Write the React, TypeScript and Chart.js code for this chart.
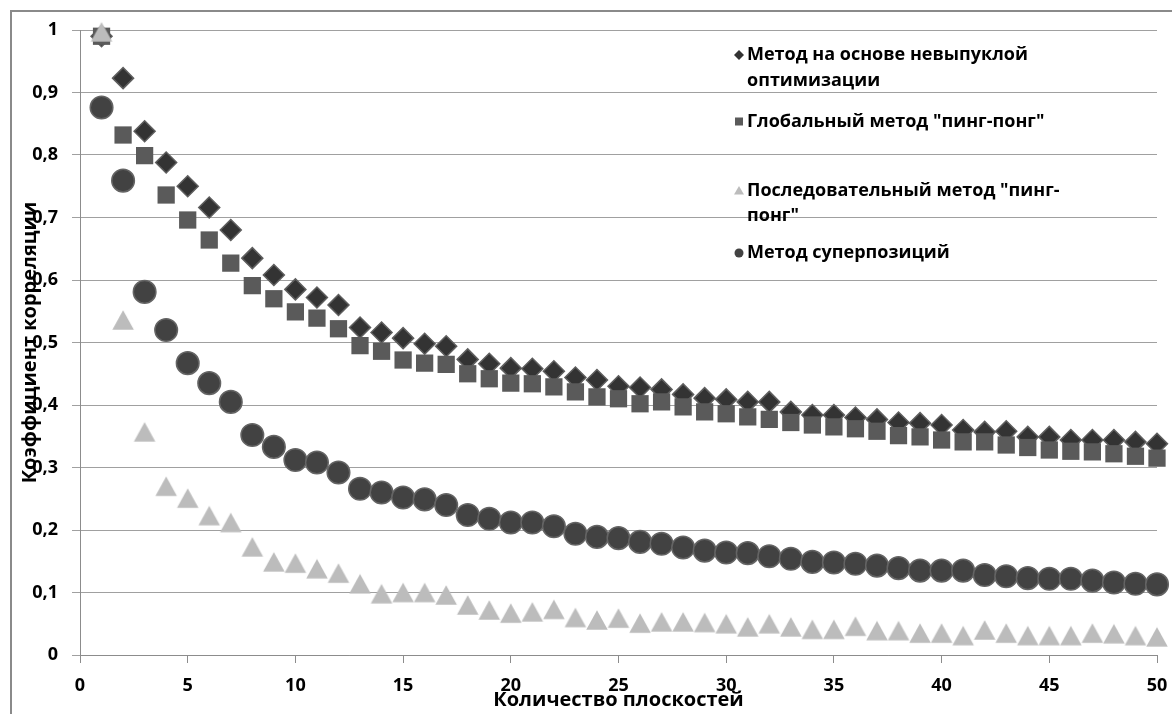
import React, { useEffect, useRef } from 'react';
import { Chart, registerables } from 'chart.js';

Chart.register(...registerables);

const planes = Array.from({ length: 50 }, (_, i) => i + 1);

const seriesNames = [
  ['Метод на основе невыпуклой', 'оптимизации'],
  ['Глобальный метод "пинг-понг"'],
  ['Последовательный метод "пинг-', 'понг"'],
  ['Метод суперпозиций'],
];

const nonconvex = [
  0.99, 0.923, 0.838, 0.788, 0.75, 0.716, 0.68, 0.635, 0.608, 0.585,
  0.572, 0.56, 0.524, 0.516, 0.507, 0.498, 0.494, 0.473, 0.466, 0.459,
  0.458, 0.454, 0.444, 0.44, 0.43, 0.428, 0.425, 0.417, 0.411, 0.409,
  0.405, 0.405, 0.389, 0.384, 0.384, 0.38, 0.377, 0.372, 0.371, 0.368,
  0.36, 0.357, 0.358, 0.349, 0.349, 0.344, 0.344, 0.344, 0.341, 0.338,
];

const globalPingPong = [
  0.99, 0.832, 0.799, 0.736, 0.696, 0.664, 0.627, 0.591, 0.57, 0.549,
  0.539, 0.522, 0.495, 0.486, 0.472, 0.467, 0.465, 0.45, 0.442, 0.435,
  0.434, 0.429, 0.421, 0.413, 0.41, 0.402, 0.405, 0.397, 0.389, 0.386,
  0.381, 0.377, 0.372, 0.368, 0.365, 0.362, 0.358, 0.351, 0.349, 0.344,
  0.341, 0.341, 0.336, 0.332, 0.328, 0.326, 0.325, 0.322, 0.318, 0.315,
];

const sequentialPingPong = [
  0.997, 0.536, 0.357, 0.27, 0.251, 0.223, 0.212, 0.173, 0.149, 0.147,
  0.138, 0.131, 0.114, 0.098, 0.1, 0.1, 0.096, 0.08, 0.072, 0.067,
  0.069, 0.073, 0.06, 0.056, 0.059, 0.051, 0.053, 0.053, 0.052, 0.05,
  0.045, 0.05, 0.045, 0.041, 0.041, 0.046, 0.039, 0.039, 0.035, 0.035,
  0.031, 0.04, 0.035, 0.031, 0.031, 0.031, 0.035, 0.034, 0.031, 0.029,
];

const superposition = [
  0.876, 0.759, 0.581, 0.52, 0.467, 0.435, 0.405, 0.352, 0.333, 0.312,
  0.308, 0.292, 0.266, 0.26, 0.252, 0.249, 0.24, 0.224, 0.218, 0.212,
  0.212, 0.206, 0.194, 0.189, 0.187, 0.181, 0.178, 0.172, 0.167, 0.164,
  0.163, 0.158, 0.154, 0.149, 0.148, 0.146, 0.143, 0.139, 0.135, 0.135,
  0.135, 0.128, 0.126, 0.123, 0.122, 0.122, 0.119, 0.116, 0.114, 0.113,
];

const xTitle = 'Количество плоскостей';
const yTitle = 'Коэффициент корреляции';

const FONT = '"Open Sans", "Noto Sans", sans-serif';
const C_DIAMOND = '#333333';
const C_SQUARE = '#5a5a5a';
const C_TRIANGLE = '#bcbcbc';
const C_CIRCLE = '#424242';

function makeTriangle(w: number, h: number, color: string) {
  const c = document.createElement('canvas');
  c.width = Math.ceil(w) + 2;
  c.height = Math.ceil(h) + 2;
  const ctx = c.getContext('2d')!;
  const cx = c.width / 2;
  const cy = c.height / 2;
  ctx.fillStyle = color;
  ctx.beginPath();
  ctx.moveTo(cx, cy - h / 2);
  ctx.lineTo(cx + w / 2, cy + h / 2);
  ctx.lineTo(cx - w / 2, cy + h / 2);
  ctx.closePath();
  ctx.fill();
  return c;
}

const toPoints = (ys: number[]) => planes.map((x, i) => ({ x, y: ys[i] }));

export default function App() {
  const ref = useRef<HTMLCanvasElement | null>(null);

  useEffect(() => {
    const canvas = ref.current!;
    const triangleStyle = makeTriangle(21.5, 19.5, C_TRIANGLE);

    const frame = {
      id: 'frame',
      beforeDraw(chart: any) {
        const ctx = chart.ctx;
        ctx.save();
        ctx.fillStyle = '#ffffff';
        ctx.fillRect(0, 0, chart.width, chart.height);
        ctx.strokeStyle = '#8a8a8a';
        ctx.lineWidth = 2;
        ctx.strokeRect(11, 11, chart.width + 20, chart.height + 20);
        ctx.restore();
      },
      afterDraw(chart: any) {
        const ctx = chart.ctx;
        const a = chart.chartArea;
        ctx.save();
        ctx.fillStyle = '#000000';
        ctx.font = `bold 20px ${FONT}`;
        ctx.textAlign = 'center';
        ctx.textBaseline = 'middle';
        ctx.fillText(xTitle, (a.left + a.right) / 2, 700);
        ctx.translate(30, (a.top + a.bottom) / 2);
        ctx.rotate(-Math.PI / 2);
        ctx.fillText(yTitle, 0, 0);
        ctx.restore();

        // legend
        const entries = [
          { y: 55, marker: 'diamond' },
          { y: 121.5, marker: 'square' },
          { y: 190.5, marker: 'triangle' },
          { y: 253, marker: 'circle' },
        ];
        ctx.save();
        ctx.font = `bold 18px ${FONT}`;
        ctx.textAlign = 'left';
        ctx.textBaseline = 'middle';
        const mx = 739;
        const tx = 747;
        entries.forEach((e, i) => {
          const lines = seriesNames[i];
          ctx.fillStyle = '#000000';
          lines.forEach((ln, j) => ctx.fillText(ln, tx, e.y + j * 25.5));
          ctx.beginPath();
          if (e.marker === 'diamond') {
            ctx.fillStyle = C_DIAMOND;
            ctx.moveTo(mx - 5, e.y);
            ctx.lineTo(mx, e.y - 5);
            ctx.lineTo(mx + 5, e.y);
            ctx.lineTo(mx, e.y + 5);
            ctx.closePath();
            ctx.fill();
          } else if (e.marker === 'square') {
            ctx.fillStyle = C_SQUARE;
            ctx.fillRect(mx - 4, e.y - 4, 8, 8);
          } else if (e.marker === 'triangle') {
            ctx.fillStyle = C_TRIANGLE;
            ctx.moveTo(mx, e.y - 4.5);
            ctx.lineTo(mx + 5, e.y + 4);
            ctx.lineTo(mx - 5, e.y + 4);
            ctx.closePath();
            ctx.fill();
          } else {
            ctx.fillStyle = C_CIRCLE;
            ctx.arc(mx, e.y, 4.5, 0, Math.PI * 2);
            ctx.fill();
          }
        });
        ctx.restore();
      },
    };

    const chart = new Chart(canvas, {
      type: 'scatter',
      data: {
        datasets: [
          {
            label: seriesNames[0].join(' '),
            data: toPoints(nonconvex),
            pointStyle: 'rectRot',
            pointRadius: 10.5,
            pointHoverRadius: 10.5,
            backgroundColor: C_DIAMOND,
            borderColor: '#5e5e5e',
            borderWidth: 1.5,
            order: 4,
            clip: false,
          },
          {
            label: seriesNames[1].join(' '),
            data: toPoints(globalPingPong),
            pointStyle: 'rect',
            pointRadius: 12.2,
            pointHoverRadius: 12.2,
            backgroundColor: C_SQUARE,
            borderColor: C_SQUARE,
            borderWidth: 0,
            order: 3,
            clip: false,
          },
          {
            label: seriesNames[2].join(' '),
            data: toPoints(sequentialPingPong),
            pointStyle: triangleStyle as any,
            pointRadius: 12,
            backgroundColor: C_TRIANGLE,
            borderColor: C_TRIANGLE,
            order: 2,
            clip: false,
          },
          {
            label: seriesNames[3].join(' '),
            data: toPoints(superposition),
            pointStyle: 'circle',
            pointRadius: 11.3,
            pointHoverRadius: 11.3,
            backgroundColor: C_CIRCLE,
            borderColor: '#646464',
            borderWidth: 1.5,
            order: 1,
            clip: false,
          },
        ],
      },
      options: {
        responsive: false,
        animation: false,
        events: [],
        layout: { padding: { left: 10, top: 30, right: 15, bottom: 0 } },
        plugins: {
          legend: { display: false },
          tooltip: { enabled: false },
          title: { display: false },
        },
        scales: {
          x: {
            type: 'linear',
            min: 0,
            max: 50,
            afterFit: (s: any) => {
              s.height = 59;
              s.paddingLeft = 0;
              s.paddingRight = 0;
            },
            ticks: {
              stepSize: 5,
              padding: 12,
              color: '#000000',
              font: { family: FONT, size: 18, weight: 'bold' },
              maxRotation: 0,
            },
            grid: {
              drawOnChartArea: false,
              drawTicks: true,
              tickLength: 8,
              color: '#8c8c8c',
            },
            border: { display: true, color: '#8c8c8c', width: 1 },
          },
          y: {
            type: 'linear',
            min: 0,
            max: 1,
            afterFit: (s: any) => {
              s.width = 70;
              s.paddingTop = 0;
              s.paddingBottom = 0;
            },
            ticks: {
              stepSize: 0.1,
              padding: 14,
              color: '#000000',
              font: { family: FONT, size: 18, weight: 'bold' },
              callback: (v: any) => Number(Number(v).toFixed(1)).toString().replace('.', ','),
            },
            grid: {
              color: '#a0a0a0',
              drawTicks: true,
              tickLength: 8,
              lineWidth: 1,
            },
            border: { display: true, color: '#8c8c8c', width: 1 },
          },
        },
      },
      plugins: [frame],
    });

    return () => chart.destroy();
  }, []);

  return (
    <div style={{ position: 'absolute', left: 0, top: 0, width: 1172, height: 714 }}>
      <canvas ref={ref} width={1172} height={714} style={{ display: 'block' }} />
    </div>
  );
}
